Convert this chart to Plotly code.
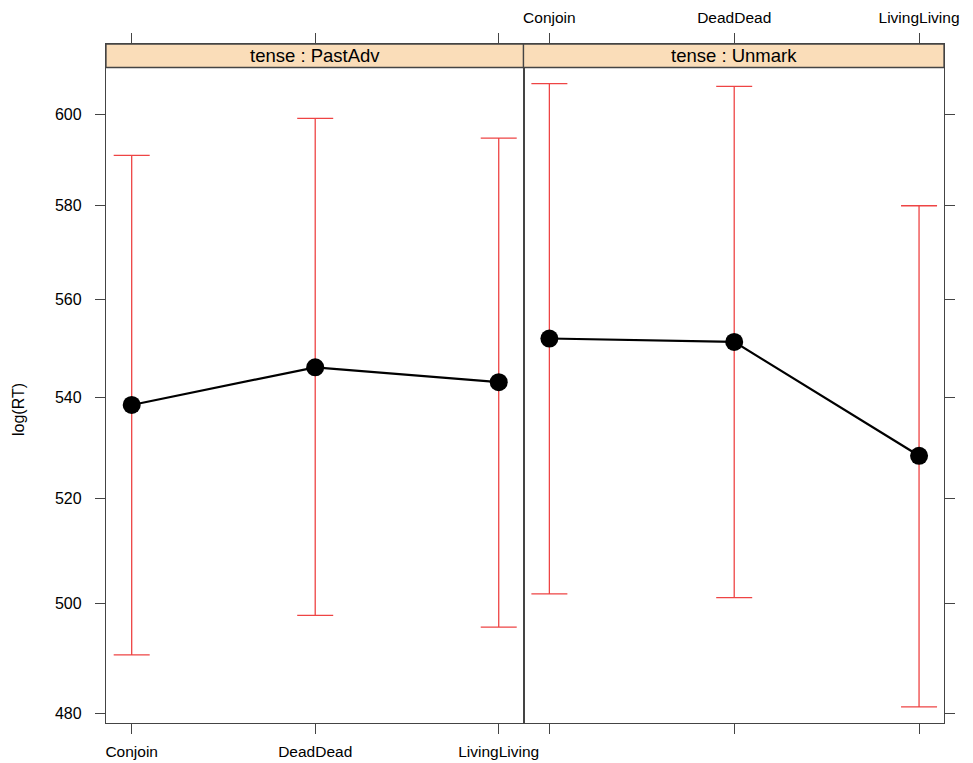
import numpy as np
import plotly.graph_objects as go

# Effect estimates of log(RT) by compound type, one panel per tense level
types = ["Conjoin", "DeadDead", "LivingLiving"]
panels = ["PastAdv", "Unmark"]

fit_pastadv = [538.4, 546.0, 543.0]
lower_pastadv = [490.5, 497.8, 495.6]
upper_pastadv = [590.9, 599.1, 594.7]

fit_unmark = [551.9, 551.2, 528.3]
lower_unmark = [501.8, 501.1, 481.1]
upper_unmark = [606.9, 606.3, 579.9]

y_ticks = [480, 500, 520, 540, 560, 580, 600]

FONT = "Liberation Sans, Arial, Helvetica, sans-serif"
AXIS_COL = "#444444"
RED = "#EE4444"
STRIP_FILL = "#FADDB9"

W, H = 973, 763
M_L, M_R, M_T, M_B = 106, 29, 44, 40
plot_h = H - M_T - M_B
plot_w = W - M_L - M_R
split = (523.5 - M_L) / plot_w          # boundary between the two panels
strip_px = 23.5                          # strip height in pixels
strip_y0 = 1 - strip_px / plot_h

# log axis range: extra room at the top holds the strip
y_lo, y_hi = 478.22, 615.93
x_range = [-0.14, 2.135]

fig = go.Figure()

series = [
    (fit_pastadv, lower_pastadv, upper_pastadv, "x", "y"),
    (fit_unmark, lower_unmark, upper_unmark, "x2", "y2"),
]
for fit, lo, hi, xa, ya in series:
    fit_a = np.array(fit)
    fig.add_trace(go.Scatter(
        x=[0, 1, 2], y=fit, xaxis=xa, yaxis=ya, mode="markers",
        marker=dict(size=1, color="rgba(0,0,0,0)"),
        error_y=dict(type="data", symmetric=False,
                     array=list(np.array(hi) - fit_a),
                     arrayminus=list(fit_a - np.array(lo)),
                     color=RED, thickness=1.3, width=18),
        showlegend=False, hoverinfo="skip",
    ))
    fig.add_trace(go.Scatter(
        x=[0, 1, 2], y=fit, xaxis=xa, yaxis=ya, mode="lines+markers",
        line=dict(color="black", width=2.2),
        marker=dict(size=18, color="black"),
        showlegend=False,
    ))

common_x = dict(
    range=x_range, tickvals=[0, 1, 2], ticktext=types,
    ticks="outside", ticklen=10, tickwidth=1.3, tickcolor=AXIS_COL,
    showline=True, linecolor=AXIS_COL, linewidth=1.3, mirror="ticks",
    showgrid=False, zeroline=False, ticklabelstandoff=4, automargin=False,
    tickfont=dict(family=FONT, size=15.5, color="black"),
)
common_y = dict(
    type="log", range=[np.log10(y_lo), np.log10(y_hi)],
    tickvals=y_ticks, ticktext=[str(v) for v in y_ticks],
    ticks="outside", ticklen=10, tickwidth=1.3, tickcolor=AXIS_COL,
    showline=True, linecolor=AXIS_COL, linewidth=1.3, mirror=True,
    showgrid=False, zeroline=False, automargin=False,
    tickfont=dict(family=FONT, size=16, color="black"),
)

fig.update_layout(
    width=W, height=H,
    margin=dict(l=M_L, r=M_R, t=M_T, b=M_B),
    plot_bgcolor="white", paper_bgcolor="white",
    xaxis=dict(domain=[0, split], anchor="y", side="bottom", **common_x),
    xaxis2=dict(domain=[split, 1], anchor="y2", side="top", **common_x),
    yaxis=dict(anchor="x", side="left", ticklabelstandoff=10, **common_y),
    yaxis2=dict(anchor="x2", side="right", matches="y", showticklabels=False,
                **common_y),
    font=dict(family=FONT, color="black"),
)

# strips with the panel labels
for i, name in enumerate(panels):
    x0, x1 = (0, split) if i == 0 else (split, 1)
    fig.add_shape(type="rect", xref="paper", yref="paper",
                  x0=x0, x1=x1, y0=strip_y0, y1=1,
                  fillcolor=STRIP_FILL, line=dict(color=AXIS_COL, width=1.3),
                  layer="above")
    fig.add_annotation(x=(x0 + x1) / 2, y=(strip_y0 + 1) / 2,
                       xref="paper", yref="paper", showarrow=False,
                       xanchor="center", yanchor="middle",
                       text=f"tense : {name}",
                       font=dict(family=FONT, size=18.5, color="black"))

# y-axis title
fig.add_annotation(x=(18 - M_L) / plot_w, y=(H - 410 - M_B) / plot_h,
                   xref="paper", yref="paper", xanchor="center",
                   yanchor="middle", showarrow=False, text="log(RT)",
                   textangle=-90,
                   font=dict(family=FONT, size=16, color="black"))

fig.write_html("out.html")
